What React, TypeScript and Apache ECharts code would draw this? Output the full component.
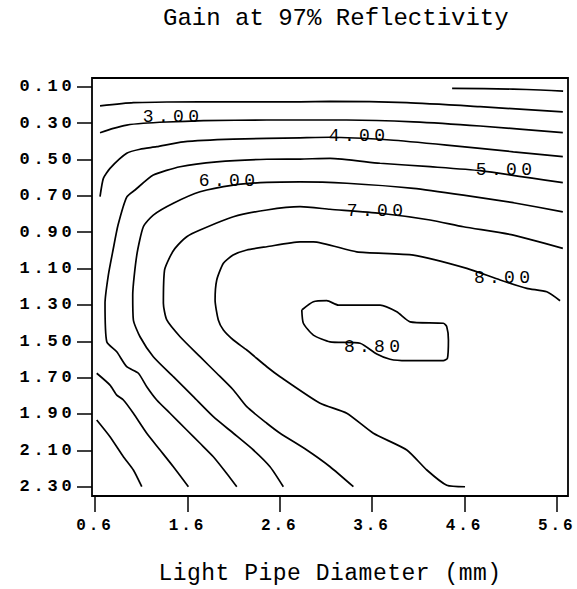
import React, { useEffect, useRef } from "react";
import * as echarts from "echarts";

// Axis ticks
const xTicks = [0.6, 1.6, 2.6, 3.6, 4.6, 5.6];
const yTicks = [0.1, 0.3, 0.5, 0.7, 0.9, 1.1, 1.3, 1.5, 1.7, 1.9, 2.1, 2.3];

// Contour lines, [diameter, y] pairs
const contourA = [[4.467, 0.109], [5.127, 0.113], [5.42, 0.118], [5.669, 0.124]];
const contourB = [
  [0.654, 0.205], [1.015, 0.188], [1.377, 0.184], [2.098, 0.183], [2.82, 0.183],
  [3.145, 0.181], [3.976, 0.188], [4.77, 0.21], [5.666, 0.238],
];
const contour3 = [
  [0.654, 0.353], [0.798, 0.329], [0.943, 0.311], [1.123, 0.301], [1.377, 0.294],
  [1.773, 0.287], [2.46, 0.283], [2.82, 0.283], [3.326, 0.283], [4.048, 0.293],
  [4.77, 0.316], [5.666, 0.353],
];
const contour4 = [
  [0.654, 0.705], [0.69, 0.604], [0.762, 0.549], [0.943, 0.466], [1.087, 0.444],
  [1.268, 0.43], [1.556, 0.403], [2.098, 0.388], [2.82, 0.381], [3.145, 0.378],
  [3.795, 0.393], [4.409, 0.421], [5.13, 0.458], [5.666, 0.485],
];
const contour5 = [
  [2.135, 2.3], [2.026, 2.227], [1.881, 2.135], [1.737, 2.061], [1.593, 1.988],
  [1.412, 1.896], [1.268, 1.823], [1.16, 1.75], [1.069, 1.676], [0.943, 1.64],
  [0.835, 1.558], [0.727, 1.503], [0.708, 1.291], [0.744, 1.136], [0.795, 0.998],
  [0.849, 0.861], [0.943, 0.707], [1.033, 0.668], [1.231, 0.586], [1.521, 0.54],
  [1.918, 0.513], [2.46, 0.499], [2.82, 0.498], [3.145, 0.494], [3.687, 0.521],
  [4.228, 0.54], [4.77, 0.562], [5.666, 0.628],
];
const contour6 = [
  [2.639, 2.3], [2.495, 2.19], [2.315, 2.098], [2.098, 2.006], [1.881, 1.915],
  [1.665, 1.805], [1.448, 1.695], [1.231, 1.585], [1.087, 1.475], [1.015, 1.383],
  [1.008, 1.246], [1.052, 1.026], [1.123, 0.87], [1.231, 0.806], [1.448, 0.741],
  [1.737, 0.678], [2.098, 0.641], [2.46, 0.626], [2.82, 0.623], [3.326, 0.631],
  [4.048, 0.659], [4.589, 0.696], [5.131, 0.738], [5.666, 0.788],
];
const contour7 = [
  [3.398, 2.3], [3.145, 2.19], [2.893, 2.098], [2.604, 2.006], [2.46, 1.951],
  [2.243, 1.86], [2.098, 1.768], [1.918, 1.676], [1.737, 1.585], [1.521, 1.475],
  [1.377, 1.383], [1.34, 1.291], [1.353, 1.108], [1.412, 1.035], [1.466, 0.989],
  [1.593, 0.925], [1.737, 0.888], [2.098, 0.815], [2.46, 0.778], [2.82, 0.76],
  [3.145, 0.774], [3.687, 0.796], [4.228, 0.833], [4.589, 0.87], [5.131, 0.916],
  [5.666, 0.989],
];
const contour8 = [
  [4.607, 2.3], [4.409, 2.292], [4.193, 2.208], [3.976, 2.098], [3.614, 2.006],
  [3.326, 1.896], [3.037, 1.841], [2.604, 1.695], [2.46, 1.64], [2.243, 1.548],
  [2.098, 1.493], [1.99, 1.438], [1.935, 1.383], [1.9, 1.273], [1.918, 1.163],
  [1.99, 1.071], [2.095, 1.026], [2.243, 0.998], [2.46, 0.98], [2.82, 0.953],
  [2.964, 0.953], [3.434, 1.008], [4.048, 1.026], [4.626, 1.099], [4.987, 1.163],
  [5.276, 1.209], [5.492, 1.228], [5.636, 1.277],
];
const contour88 = [
  [2.839, 1.328], [2.964, 1.283], [3.11, 1.277], [3.235, 1.301], [3.687, 1.301],
  [3.868, 1.338], [4.012, 1.393], [4.372, 1.401], [4.409, 1.42], [4.427, 1.493],
  [4.416, 1.594], [4.372, 1.607], [3.976, 1.607], [3.795, 1.599], [3.651, 1.57],
  [3.47, 1.511], [3.145, 1.503], [2.964, 1.466], [2.856, 1.401], [2.839, 1.328],
];
const contourLowA = [
  [0.618, 1.676], [0.762, 1.741], [0.835, 1.796], [0.907, 1.823], [1.015, 1.896],
  [1.16, 2.006], [1.304, 2.098], [1.448, 2.19], [1.611, 2.3],
];
const contourLowB = [
  [0.618, 1.933], [0.762, 2.025], [0.907, 2.135], [1.015, 2.208], [1.106, 2.3],
];

// Contour level labels
const labelNames = ["3.00", "4.00", "5.00", "6.00", "7.00", "8.00", "8.80"];
const labelX = [1.445, 3.459, 5.051, 2.051, 3.654, 5.03, 3.622];
const labelY = [0.269, 0.371, 0.558, 0.621, 0.781, 1.152, 1.529];

const contours = [
  contourA, contourB, contour3, contour4, contour5, contour6,
  contour7, contour8, contour88, contourLowA, contourLowB,
];

const FONT = "'Liberation Mono', 'DejaVu Sans Mono', monospace";

export default function App() {
  const ref = useRef<HTMLDivElement>(null);

  useEffect(() => {
    if (!ref.current) return;
    const chart = echarts.init(ref.current, null, { renderer: "svg" });

    const lineSeries = contours.map((c) => ({
      type: "line",
      data: c,
      symbol: "none",
      smooth: 0.2,
      silent: true,
      lineStyle: { color: "#000", width: 1.7 },
      z: 2,
    }));

    const labelSeries = {
      type: "scatter",
      silent: true,
      symbol: "circle",
      symbolSize: 1,
      itemStyle: { color: "rgba(0,0,0,0)" },
      data: labelNames.map((n, i) => [labelX[i], labelY[i], n]),
      label: {
        show: true,
        position: "inside",
        formatter: (p: any) => p.value[2],
        fontFamily: FONT,
        fontSize: 18,
        color: "#000",
        opacity: 1,
        textBorderWidth: 0,
      },
      z: 3,
    };

    chart.setOption({
      animation: false,
      backgroundColor: "#fff",
      title: {
        text: "Gain at 97% Reflectivity",
        left: 163,
        top: 6,
        padding: 0,
        textStyle: {
          fontFamily: FONT,
          fontSize: 24,
          fontWeight: "normal",
          color: "#000",
        },
      },
      grid: {
        left: 92,
        right: 9,
        top: 78,
        bottom: 93,
        show: true,
        containLabel: false,
        outerBoundsMode: "none",
        borderColor: "#000",
        borderWidth: 1.8,
        backgroundColor: "transparent",
      },
      xAxis: {
        type: "value",
        min: 0.567,
        max: 5.722,
        name: "Light Pipe Diameter (mm)",
        nameLocation: "middle",
        nameGap: 66,
        nameTextStyle: {
          fontFamily: FONT,
          fontSize: 23,
          color: "#000",
        },
        axisLine: { show: false },
        splitLine: { show: false },
        axisTick: {
          show: true,
          length: 16,
          customValues: xTicks,
          lineStyle: { color: "#000", width: 1.5 },
        },
        axisLabel: {
          customValues: xTicks,
          formatter: (v: number) => v.toFixed(1),
          fontFamily: FONT,
          fontSize: 16,
          fontWeight: "bold",
          color: "#000",
          margin: 22,
        },
      },
      yAxis: {
        type: "value",
        inverse: true,
        min: 0.0521,
        max: 2.351,
        axisLine: { show: false },
        splitLine: { show: false },
        axisTick: {
          show: true,
          length: 15,
          customValues: yTicks,
          lineStyle: { color: "#000", width: 1.5 },
        },
        axisLabel: {
          customValues: yTicks,
          formatter: (v: number) => v.toFixed(2),
          fontFamily: FONT,
          fontSize: 17,
          fontWeight: "bold",
          color: "#000",
          margin: 16.5,
          padding: [0, 0, 4, 0],
        },
      },
      series: [...lineSeries, labelSeries],
    });

    return () => chart.dispose();
  }, []);

  return (
    <div>
      <style>{`
        .gainchart text[style*="17px"], .gainchart text[font-size="17"], .gainchart text[font-size="17px"] { letter-spacing: 3.8px; }
        .gainchart text[style*="16px"], .gainchart text[font-size="16"], .gainchart text[font-size="16px"] { letter-spacing: 2.9px; }
        .gainchart text[style*="18px"], .gainchart text[font-size="18"], .gainchart text[font-size="18px"] { letter-spacing: 4.3px; }
        .gainchart text[style*="23px"], .gainchart text[font-size="23"], .gainchart text[font-size="23px"] { letter-spacing: 0.5px; }
      `}</style>
      <div
        ref={ref}
        className="gainchart"
        style={{ position: "absolute", left: 0, top: 0, width: 577, height: 589 }}
      />
    </div>
  );
}
